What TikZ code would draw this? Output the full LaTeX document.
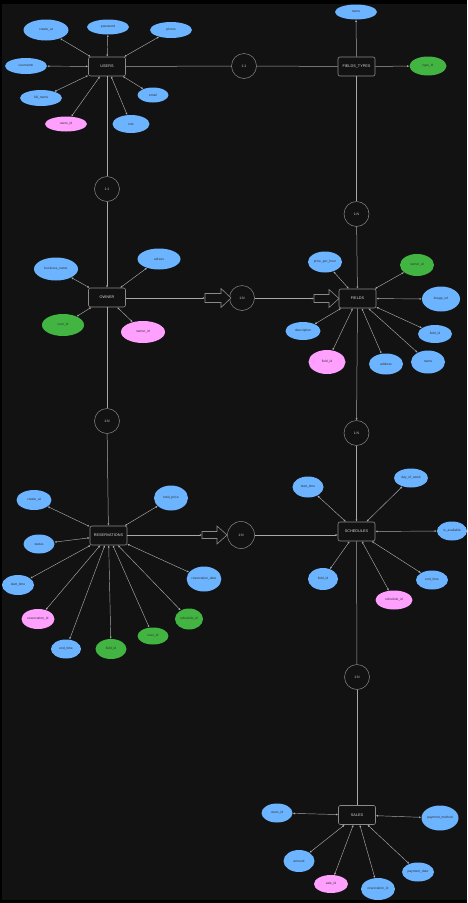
\documentclass[tikz,border=0pt]{standalone}
\usepackage{fontspec}
\setmainfont{Liberation Sans}
\usetikzlibrary{shapes.geometric,arrows.meta,calc}
\definecolor{bgc}{HTML}{121212}
\definecolor{attblue}{HTML}{6CB4FF}
\definecolor{attgreen}{HTML}{42B442}
\definecolor{attpink}{HTML}{FFA0FF}
\definecolor{linec}{HTML}{A8A8A8}
\definecolor{boxc}{HTML}{8A8A8A}
\tikzset{
  ent/.style={rectangle, rounded corners=2pt, draw=boxc, line width=0.6pt, fill=bgc,
    minimum width=37pt, minimum height=19pt, inner sep=0pt, text=white!85!black,
    font=\fontsize{3.8}{4.5}\selectfont},
  rel/.style={circle, draw=boxc, line width=0.5pt, fill=bgc, minimum size=25pt, inner sep=0pt,
    text=white!80!black, font=\fontsize{3.5}{4}\selectfont},
  att/.style={ellipse, inner sep=0pt, text=black!80, font=\fontsize{3.3}{4}\selectfont},
  ab/.style={att, fill=attblue},
  ag/.style={att, fill=attgreen},
  ap/.style={att, fill=attpink},
  al/.style={draw=linec, line width=0.45pt, {Latex[length=2.2pt,width=2pt]}-{Latex[length=2.2pt,width=2pt]}},
  rl/.style={draw=linec, line width=0.5pt},
  rt/.style={draw=linec, line width=0.5pt, -{Latex[length=2.2pt,width=2pt]}},
  bigarrow/.style={draw=boxc, line width=0.6pt, fill=bgc}
}
\begin{document}
\begin{tikzpicture}[x=1pt,y=-1pt]
\fill[black] (0,0) rectangle (467,903);
\fill[bgc] (2,4) rectangle (467,900);
\useasboundingbox (0,0) rectangle (467,903);

% ---------- entities ----------
\node[ent] (users) at (107,66.5) {USERS};
\node[ent] (ftypes) at (356.5,66.5) {FIELDS\_TYPES};
\node[ent] (owner) at (107,297.5) {OWNER};
\node[ent] (fields) at (357.5,298.5) {FIELDS};
\node[ent] (res) at (108.5,535.5) {RESERVATIONS};
\node[ent] (sched) at (356.5,531.5) {SCHEDULES};
\node[ent] (sales) at (357,815) {SALES};

% ---------- relationships ----------
\node[rel] (r11a) at (244,66) {1:1};
\node[rel] (r11b) at (107,189) {1:1};
\node[rel] (r1nft) at (356.5,214) {1:N};
\node[rel] (r1now) at (242,298) {1:N};
\node[rel] (r1nres) at (107,421) {1:N};
\node[rel] (r1nfs) at (356.5,433) {1:N};
\node[rel, minimum size=27pt] (r1nrs) at (241,535) {1:N};
\node[rel] (r1nsa) at (357,677) {1:N};

% ---------- USERS attributes ----------
\node[ab, minimum width=45pt, minimum height=21pt] (ucreate) at (46,30) {create\_at};
\node[ab, minimum width=42pt, minimum height=15pt] (upass) at (108,27) {password};
\node[ab, minimum width=42pt, minimum height=16pt] (uphone) at (171,30) {phone};
\node[ab, minimum width=42pt, minimum height=16pt] (uname) at (26,66) {username};
\node[ab, minimum width=42pt, minimum height=16pt] (ufull) at (41,98) {full\_name};
\node[ab, minimum width=31pt, minimum height=15pt] (uemail) at (153,95) {email};
\node[ap, minimum width=42pt, minimum height=15pt] (uid) at (66,124) {users\_id};
\node[ab, minimum width=37pt, minimum height=18pt] (urole) at (131,124) {role};
\foreach \a in {ucreate,upass,uphone,uname,ufull,uemail,uid,urole} \draw[al] (users) -- (\a);

% ---------- FIELDS_TYPES attributes ----------
\node[ab, minimum width=42pt, minimum height=15pt] (ftname) at (356,12) {name};
\node[ag, minimum width=37pt, minimum height=19pt] (fttype) at (428,66) {type\_id};
\draw[rt] (ftypes) -- (ftname);
\draw[rt] (ftypes) -- (fttype);

% ---------- OWNER attributes ----------
\node[ab, minimum width=44pt, minimum height=23pt] (obiz) at (56,269) {business\_name};
\node[ab, minimum width=43pt, minimum height=21pt] (oadr) at (159,259) {adress};
\node[ag, minimum width=42pt, minimum height=22pt] (ouser) at (63,325) {user\_id};
\node[ap, minimum width=44pt, minimum height=22pt] (oid) at (143,332) {owner\_id};
\foreach \a in {obiz,oadr,ouser,oid} \draw[al] (owner) -- (\a);

% ---------- FIELDS attributes ----------
\node[ab, minimum width=34pt, minimum height=21pt] (fprice) at (325,262) {price\_per\_hour};
\node[ag, minimum width=34pt, minimum height=22pt] (fowner) at (417,265) {owner\_id};
\node[ab, minimum width=38pt, minimum height=25pt] (fimg) at (441,299) {image\_url};
\node[ab, minimum width=35pt, minimum height=18pt] (fdesc) at (303,331) {description};
\node[ab, minimum width=34pt, minimum height=18pt] (ftid) at (435,334) {field\_id};
\node[ap, minimum width=37pt, minimum height=24pt] (fid) at (327,362) {field\_id};
\node[ab, minimum width=34pt, minimum height=21pt] (faddr) at (386,364) {address};
\node[ab, minimum width=34pt, minimum height=23pt] (fname) at (428,362) {name};
\foreach \a in {fprice,fowner,fimg,fdesc,ftid,fid,faddr,fname} \draw[al] (fields) -- (\a);

% ---------- RESERVATIONS attributes ----------
\node[ab, minimum width=35pt, minimum height=20pt] (rcreate) at (34,500) {create\_at};
\node[ab, minimum width=34pt, minimum height=25pt] (rtotal) at (171,498) {total\_price};
\node[ab, minimum width=31pt, minimum height=19pt] (rstatus) at (39,544) {status};
\node[ab, minimum width=32pt, minimum height=20pt] (rstart) at (18,585) {start\_time};
\node[ab, minimum width=32pt, minimum height=25pt] (rdate) at (204,579) {reservation\_date};
\node[ap, minimum width=33pt, minimum height=20pt] (rid) at (38,619) {reservation\_id};
\node[ag, minimum width=28pt, minimum height=21pt] (rsched) at (189,619) {schedule\_id};
\node[ag, minimum width=31pt, minimum height=17pt] (ruser) at (153,636) {user\_id};
\node[ab, minimum width=30pt, minimum height=19pt] (rend) at (66,649) {end\_time};
\node[ag, minimum width=31pt, minimum height=20pt] (rfield) at (111,649) {field\_id};
\foreach \a in {rcreate,rtotal,rstatus,rstart,rdate,rid,rsched,ruser,rend,rfield} \draw[al] (res) -- (\a);

% ---------- SCHEDULES attributes ----------
\node[ab, minimum width=31pt, minimum height=21pt] (sstart) at (308,487) {start\_time};
\node[ab, minimum width=34pt, minimum height=19pt] (sday) at (411,478) {day\_of\_week};
\node[ab, minimum width=30pt, minimum height=19pt] (savail) at (452,531) {is\_available};
\node[ab, minimum width=30pt, minimum height=22pt] (sfield) at (323,579) {field\_id};
\node[ab, minimum width=32pt, minimum height=19pt] (send) at (432,580) {end\_time};
\node[ap, minimum width=37pt, minimum height=19pt] (sid) at (394,600) {schedule\_id};
\foreach \a in {sstart,sday,savail,sfield,send,sid} \draw[al] (sched) -- (\a);

% ---------- SALES attributes ----------
\node[ab, minimum width=31pt, minimum height=19pt] (susers) at (277,813) {users\_id};
\node[ab, minimum width=37pt, minimum height=25pt] (spay) at (440,818) {payment\_method};
\node[ab, minimum width=31pt, minimum height=22pt] (samount) at (299,861) {amount};
\node[ab, minimum width=32pt, minimum height=19pt] (sdate) at (418,872) {payment\_date};
\node[ap, minimum width=34pt, minimum height=18pt] (ssale) at (331,884) {sale\_id};
\node[ab, minimum width=34pt, minimum height=22pt] (sres) at (378,889) {reservation\_id};
\foreach \a in {susers,spay,samount,sdate,ssale,sres} \draw[al] (sales) -- (\a);

% ---------- relationship connectors ----------
\draw[rl] (users) -- (r11a);
\draw[rl] (r11a) -- (ftypes);
\draw[rl] (users) -- (r11b);
\draw[rt] (r11b) -- (owner);
\draw[rl] (ftypes) -- (r1nft);
\draw[rt] (r1nft) -- (fields);
\draw[rl] (owner) -- (r1nres);
\draw[rt] (r1nres) -- (res);
\draw[rt] (fields) -- (r1nfs);
\draw[rt] (r1nfs) -- (sched);
\draw[rl] (sched) -- (r1nsa);
\draw[rl] (r1nsa) -- (sales);

% owner -> fields through big arrows
\coordinate (a1) at (205,298);
\coordinate (a2) at (314,298.5);
\coordinate (a3) at (202,535);
\draw[rt] (owner.east |- a1) -- (a1);
\draw[bigarrow] (a1) ++(0,-4.5) -- ++(16,0) -- ++(0,-5) -- ++(10,9.5) -- ++(-10,9.5) -- ++(0,-5) -- ++(-16,0) -- cycle;
\draw[rt] (r1now.east |- a2) -- (a2);
\draw[bigarrow] (a2) ++(0,-4) -- ++(15,0) -- ++(0,-5) -- ++(10,9) -- ++(-10,9) -- ++(0,-5) -- ++(-15,0) -- cycle;
\draw[rt] (res.east |- a3) -- (a3);
\draw[bigarrow] (a3) ++(0,-3.5) -- ++(15,0) -- ++(0,-5.5) -- ++(10,9) -- ++(-10,9) -- ++(0,-5.5) -- ++(-15,0) -- cycle;
\draw[rt] (r1nrs.east) -- (r1nrs.east -| sched.west);
\end{tikzpicture}
\end{document}
